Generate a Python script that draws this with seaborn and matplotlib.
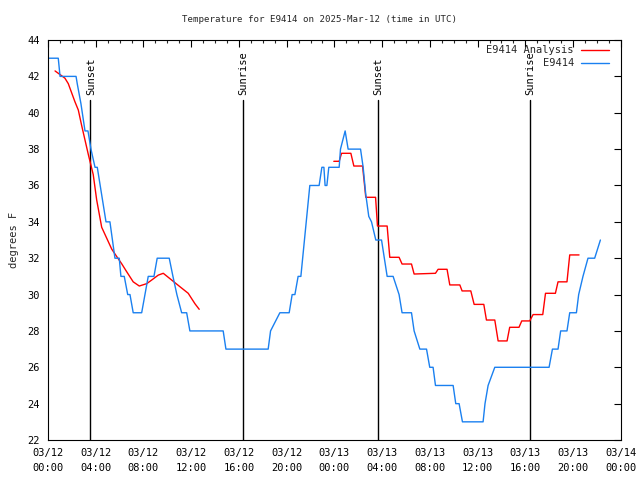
import matplotlib
matplotlib.use("Agg")
import matplotlib.pyplot as plt
from matplotlib.ticker import MultipleLocator, FixedLocator
import seaborn as sns
import pandas as pd

# ---- data (hours since 2025-03-12 00:00 UTC) ----
obs_hours = [0.0, 0.86, 1.01, 2.35, 2.45, 2.76, 3.10, 3.35, 3.60, 3.94, 4.13,
             4.86, 5.19, 5.61, 5.97, 6.11, 6.39, 6.68, 6.87, 7.14, 7.85, 8.40,
             8.88, 9.15, 10.16, 10.47, 10.80, 11.20, 11.62, 11.89, 14.68, 14.91,
             18.45, 18.65, 19.43, 20.21, 20.46, 20.69, 20.96, 21.19, 21.94, 22.72,
             22.95, 23.12, 23.22, 23.37, 23.53, 24.40, 24.51, 24.90, 25.15, 26.19,
             26.41, 26.63, 26.88, 27.11, 27.47, 27.95, 28.42, 28.92, 29.42, 29.67,
             30.46, 30.68, 31.16, 31.72, 31.99, 32.27, 32.47, 33.95, 34.17, 34.45,
             34.73, 36.46, 36.62, 36.88, 37.44, 41.99, 42.27, 42.74, 42.96, 43.49,
             43.72, 44.28, 44.47, 44.83, 45.25, 45.81, 46.29]
obs_temps = [43, 43, 42, 42, 41.6, 40.5, 39, 39, 38, 37, 37,
             34, 34, 32, 32, 31, 31, 30, 30, 29, 29, 31,
             31, 32, 32, 31, 30, 29, 29, 28, 28, 27,
             27, 28, 29, 29, 30, 30, 31, 31, 36, 36,
             37, 37, 36, 36, 37, 37, 38, 39, 38, 38,
             37, 35.5, 34.3, 34, 33, 33, 31, 31, 30, 29,
             29, 28, 27, 27, 26, 26, 25, 25, 24, 24,
             23, 23, 24, 25, 26, 26, 27, 27, 28, 28,
             29, 29, 30, 31, 32, 32, 33]

ana1_hours = [0.59, 1.01, 1.42, 1.70, 1.98, 2.26, 2.54, 2.82, 3.10, 3.38, 3.79,
              4.08, 4.50, 4.92, 5.34, 5.75, 6.17, 6.59, 7.14, 7.65, 8.27, 8.69,
              9.24, 9.66, 10.36, 11.06, 11.75, 12.31, 12.67]
ana1_temps = [42.3, 42.1, 41.9, 41.6, 41.1, 40.6, 40.15, 39.3, 38.5, 37.7, 36.6,
              35.2, 33.7, 33.1, 32.5, 32.1, 31.7, 31.26, 30.7, 30.47, 30.6, 30.8,
              31.07, 31.17, 30.8, 30.43, 30.07, 29.5, 29.19]

ana2_hours = [23.95, 24.40, 24.60, 25.38, 25.63, 26.36, 26.63, 27.45, 27.61, 28.42,
              28.64, 29.42, 29.67, 30.46, 30.68, 32.47, 32.69, 33.44, 33.67, 34.51,
              34.70, 35.43, 35.71, 36.52, 36.74, 37.44, 37.72, 38.47, 38.69, 39.47,
              39.70, 40.37, 40.65, 41.46, 41.69, 42.52, 42.74, 43.49, 43.72, 44.50]
ana2_temps = [37.33, 37.33, 37.77, 37.77, 37.07, 37.07, 35.35, 35.35, 33.77, 33.77,
              32.05, 32.05, 31.68, 31.68, 31.13, 31.17, 31.39, 31.39, 30.53, 30.53,
              30.2, 30.2, 29.46, 29.46, 28.6, 28.6, 27.45, 27.45, 28.2, 28.2,
              28.55, 28.55, 28.9, 28.9, 30.07, 30.07, 30.7, 30.7, 32.18, 32.18]

sun_hours = [3.55, 16.35, 27.66, 40.39]
sun_labels = ["Sunset", "Sunrise", "Sunset", "Sunrise"]

tick_hours = list(range(0, 49, 4))
tick_labels = ["03/12\n00:00", "03/12\n04:00", "03/12\n08:00", "03/12\n12:00",
               "03/12\n16:00", "03/12\n20:00", "03/13\n00:00", "03/13\n04:00",
               "03/13\n08:00", "03/13\n12:00", "03/13\n16:00", "03/13\n20:00",
               "03/14\n00:00"]

series_names = ["E9414 Analysis", "E9414"]
title = "Temperature for E9414 on 2025-Mar-12 (time in UTC)"

# ---- plot ----
sns.set_style("white")
plt.rcParams["font.family"] = ["DejaVu Sans Mono"]
plt.rcParams["font.size"] = 7.5

fig = plt.figure(figsize=(6.4, 4.8), dpi=100)
ax = fig.add_axes([0.075, 0.0833, 0.895, 0.8333])

RED = "#ff0000"
BLUE = "#1a80f0"
colors = [RED, BLUE]

df_obs = pd.DataFrame({"h": obs_hours, "t": obs_temps})
df_a1 = pd.DataFrame({"h": ana1_hours, "t": ana1_temps})
df_a2 = pd.DataFrame({"h": ana2_hours, "t": ana2_temps})

sns.lineplot(data=df_a1, x="h", y="t", ax=ax, color=RED, lw=1.0,
             sort=False, estimator=None, legend=False)
sns.lineplot(data=df_a2, x="h", y="t", ax=ax, color=RED, lw=1.0,
             sort=False, estimator=None, legend=False)
sns.lineplot(data=df_obs, x="h", y="t", ax=ax, color=BLUE, lw=1.0,
             sort=False, estimator=None, legend=False)

ax.set_xlim(0, 48)
ax.set_ylim(22, 44)

# sun lines
for h, lab in zip(sun_hours, sun_labels):
    ax.plot([h, h], [22, 40.7], color="black", lw=1.0, zorder=1)
    ax.text(h + 0.05, 41.0, lab, rotation=90, ha="center", va="bottom",
            fontsize=7.5, color="black")

# legend (gnuplot style: right-aligned text, sample line to the right)
for i, (name, c) in enumerate(zip(series_names, colors)):
    yy = 0.976 - i * 0.0345
    ax.text(0.918, yy, name, transform=ax.transAxes, ha="right",
            va="center", fontsize=7.5)
    ax.plot([0.930, 0.980], [yy, yy], transform=ax.transAxes,
            color=c, lw=1.0, clip_on=False)

ax.xaxis.set_major_locator(FixedLocator(tick_hours))
ax.set_xticklabels(tick_labels, linespacing=1.55)
ax.xaxis.set_minor_locator(MultipleLocator(1))
ax.yaxis.set_major_locator(MultipleLocator(2))
ax.tick_params(axis="both", which="major", direction="in", length=5, width=0.8,
               top=True, right=True, labelsize=7.5, pad=6, colors="black")
ax.tick_params(axis="both", which="minor", direction="in", length=2.5, width=0.8,
               top=True, right=True)
for s in ax.spines.values():
    s.set_color("black")
    s.set_linewidth(0.8)

ax.set_xlabel("")
ax.set_ylabel("degrees F", fontsize=7.5, labelpad=6)
fig.text(0.5, 1 - 19.5 / 480, title, ha="center", va="center", fontsize=6.6)

fig.savefig("out.png", dpi=100)
